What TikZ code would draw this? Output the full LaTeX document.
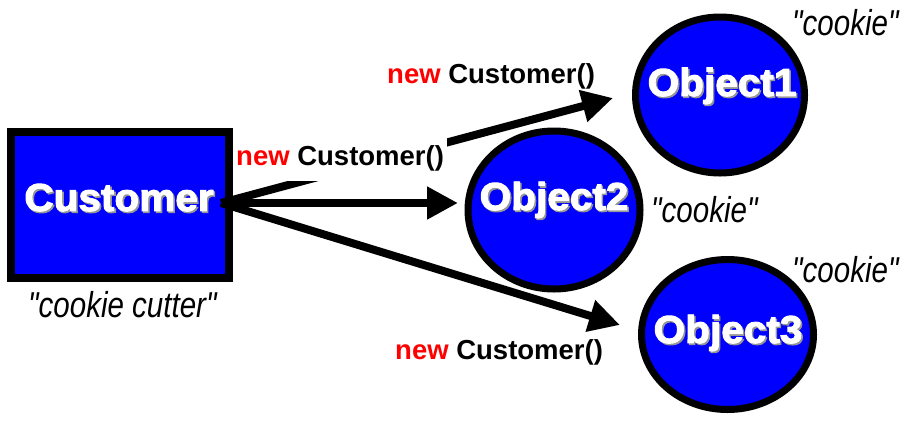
\documentclass[tikz,border=0pt]{standalone}
\usepackage{fontspec}
\setmainfont{Liberation Sans}
\newfontfamily\heavyfont{Liberation Sans Bold}[FakeBold=2.5,FakeStretch=1.04]
\newfontfamily\narrowitfont{Liberation Sans Italic}[FakeStretch=0.82]
\usetikzlibrary{arrows.meta,shapes.geometric}

\definecolor{objblue}{RGB}{0,0,255}
\definecolor{kwred}{RGB}{255,0,0}
\definecolor{shade}{RGB}{150,150,150}

% white lettering with a soft grey drop shadow
\newcommand\embossed[1]{\rlap{\kern1.6pt\raisebox{-1.6pt}{\color{shade}#1}}{\color{white}#1}}
\newcommand\newcall{{\color{kwred}new} Customer()}

\tikzset{
  classbox/.style={draw=black, line width=8pt, fill=objblue,
    minimum width=218pt, minimum height=146pt, inner sep=0pt},
  objcircle/.style={ellipse, draw=black, line width=7pt, fill=objblue, inner sep=0pt},
  bigtext/.style={font=\heavyfont\fontsize{39}{44}\selectfont, inner sep=0pt, anchor=base},
  cookie/.style={font=\narrowitfont\fontsize{36}{40}\selectfont, inner sep=0pt, anchor=base west},
  call/.style={font=\bfseries\fontsize{27.5}{30}\selectfont, inner sep=0pt, anchor=base west},
  newarrow/.style={line width=8pt, -{Triangle[length=31pt,width=31pt]}},
}

\begin{document}
\begin{tikzpicture}[x=1pt, y=-1pt]
\useasboundingbox (0,0) rectangle (912,421);

% the class and its three instances
\node[classbox] (cls) at (120,205) {};
\node[objcircle, minimum width=169pt, minimum height=156pt] (o1) at (720,95) {};
\node[objcircle, minimum width=172pt, minimum height=158pt] (o2) at (554,210) {};
\node[objcircle, minimum width=172pt, minimum height=150pt] (o3) at (727.5,334.5) {};

\node[bigtext] (clsname) at (119,211) {\embossed{Customer}};

% instantiation arrows
\coordinate (src) at (221,203);
\coordinate (tip1) at (613,98);
\coordinate (tip2) at (458,203);
\coordinate (tip3) at (620,325);
\draw[newarrow] (src) -- (tip1);
\draw[newarrow] (src) -- (tip2);
\draw[newarrow] (src) -- (tip3);

% object names
\node[bigtext] (o1name) at (722,96) {\embossed{Object1}};
\node[bigtext] (o2name) at (554,210) {\embossed{Object2}};
\node[bigtext] (o3name) at (728,343) {\embossed{Object3}};

% constructor calls
\node[call] (call1) at (387,83) {\newcall};
\node[call, fill=white, inner xsep=3pt, inner ysep=10pt] (call2) at (233,165) {\newcall};
\node[call] (call3) at (395,359) {\newcall};

% captions
\node[cookie] (cap0) at (28,317) {"cookie cutter"};
\node[cookie] (cap1) at (792,35) {"cookie"};
\node[cookie] (cap2) at (651,222) {"cookie"};
\node[cookie] (cap3) at (792,282) {"cookie"};
\end{tikzpicture}
\end{document}
